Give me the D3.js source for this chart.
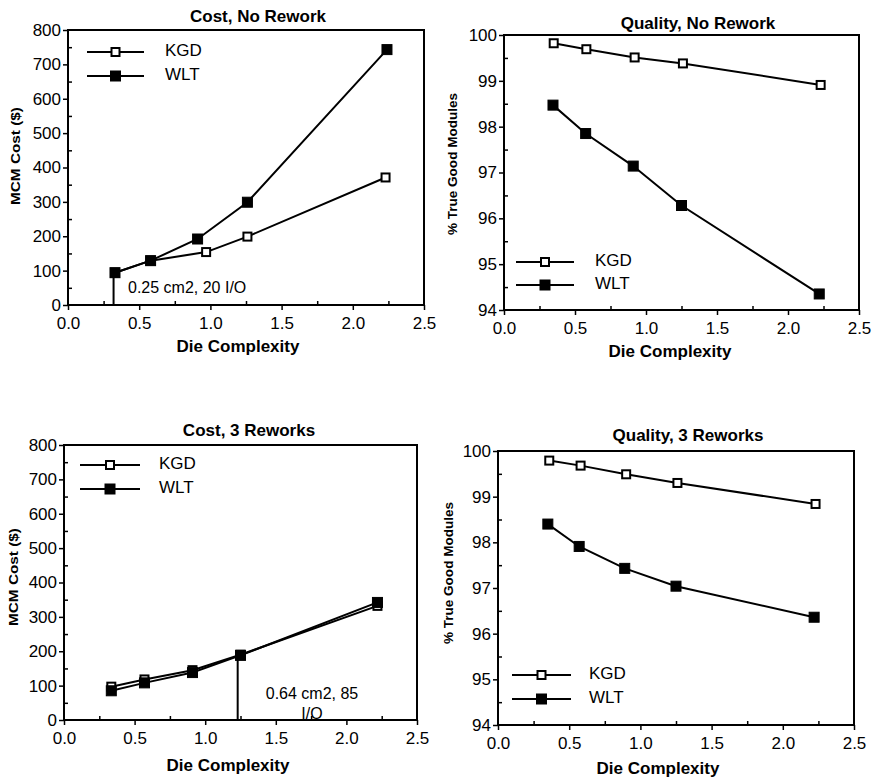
<!DOCTYPE html>
<html>
<head>
<meta charset="utf-8">
<script src="https://cdn.jsdelivr.net/npm/d3@7"></script>
<style>
  body { margin: 0; background: #fff; }
  svg { display: block; font-family: "Liberation Sans", Arial, sans-serif; }
</style>
</head>
<body>
<div id="chart"></div>
<script>
// ---- data ----
const seriesNames = ["KGD", "WLT"];

// Cost, No Rework
const costNoReworkX_KGD = [0.33, 0.58, 0.97, 1.26, 2.23];
const costNoReworkX_WLT = [0.33, 0.58, 0.91, 1.26, 2.24];
const costNoRework_KGD = [94, 129, 154, 199, 371];
const costNoRework_WLT = [94, 129, 192, 299, 743];

// Quality, No Rework
const qualNoReworkX_KGD = [0.35, 0.58, 0.92, 1.26, 2.23];
const qualNoReworkX_WLT = [0.345, 0.575, 0.91, 1.25, 2.22];
const qualNoRework_KGD = [99.82, 99.69, 99.51, 99.38, 98.91];
const qualNoRework_WLT = [98.47, 97.85, 97.14, 96.28, 94.35];

// Cost, 3 Reworks
const cost3ReworkX = [0.335, 0.57, 0.91, 1.25, 2.22];
const cost3Rework_KGD = [97, 118, 145, 190, 332];
const cost3Rework_WLT = [85, 108, 138, 188, 342];

// Quality, 3 Reworks
const qual3ReworkX_KGD = [0.36, 0.58, 0.90, 1.26, 2.23];
const qual3ReworkX_WLT = [0.35, 0.57, 0.89, 1.25, 2.22];
const qual3Rework_KGD = [99.79, 99.68, 99.49, 99.30, 98.84];
const qual3Rework_WLT = [98.40, 97.91, 97.43, 97.04, 96.36];

// axis ticks
const xTicks = [0.0, 0.5, 1.0, 1.5, 2.0, 2.5];
const costTicks = [0, 100, 200, 300, 400, 500, 600, 700, 800];
const qualTicks = [94, 95, 96, 97, 98, 99, 100];

// annotations: [x, y top, label lines]
const noteNoRework = { x: 0.32, y: 94, lines: ["0.25 cm2, 20 I/O"] };
const note3Rework = { x: 1.23, y: 190, lines: ["0.64 cm2, 85", "I/O"] };

const width = 872, height = 780;
const svg = d3.select("#chart").append("svg")
  .attr("width", width)
  .attr("height", height);

const zip = (xs, ys) => xs.map((x, i) => [x, ys[i]]);

const panels = [
  {
    title: "Cost, No Rework", box: { l: 68, r: 424, t: 30, b: 305 },
    yDomain: [0, 800], yTicks: costTicks, yMinor: 50, yLabel: "MCM Cost ($)", yLabelLen: 98,
    titlePos: [258, 22], yLabelPos: [17, 156], xLabelPos: [238, 352],
    kgd: zip(costNoReworkX_KGD, costNoRework_KGD), wlt: zip(costNoReworkX_WLT, costNoRework_WLT),
    legend: { x0: 87, x1: 144, y: 52, dy: 24, tx: 165 },
    note: noteNoRework, noteTx: 128, noteTy: 293, noteAnchor: "start"
  },
  {
    title: "Quality, No Rework", box: { l: 504, r: 859, t: 35, b: 310 },
    yDomain: [94, 100], yTicks: qualTicks, yMinor: 0.5, yLabel: "% True Good Modules", yLabelLen: 142,
    titlePos: [698, 29], yLabelPos: [454, 164], xLabelPos: [670, 357],
    kgd: zip(qualNoReworkX_KGD, qualNoRework_KGD), wlt: zip(qualNoReworkX_WLT, qualNoRework_WLT),
    legend: { x0: 516, x1: 574, y: 262, dy: 23, tx: 595 }
  },
  {
    title: "Cost, 3 Reworks", box: { l: 64, r: 417, t: 445, b: 720 },
    yDomain: [0, 800], yTicks: costTicks, yMinor: 50, yLabel: "MCM Cost ($)", yLabelLen: 98,
    titlePos: [249, 436], yLabelPos: [15, 577], xLabelPos: [228, 771],
    kgd: zip(cost3ReworkX, cost3Rework_KGD), wlt: zip(cost3ReworkX, cost3Rework_WLT),
    legend: { x0: 80, x1: 140, y: 465, dy: 24, tx: 159 },
    note: note3Rework, noteTx: 312, noteTy: 699, noteAnchor: "middle"
  },
  {
    title: "Quality, 3 Reworks", box: { l: 498, r: 854, t: 451, b: 725 },
    yDomain: [94, 100], yTicks: qualTicks, yMinor: 0.5, yLabel: "% True Good Modules", yLabelLen: 142,
    titlePos: [688, 441], yLabelPos: [450, 573], xLabelPos: [658, 774],
    kgd: zip(qual3ReworkX_KGD, qual3Rework_KGD), wlt: zip(qual3ReworkX_WLT, qual3Rework_WLT),
    legend: { x0: 512, x1: 571, y: 675, dy: 24, tx: 589 }
  }
];

function drawMarker(g, x, y, filled) {
  const s = filled ? 10 : 8;
  g.append("rect")
    .attr("x", x - s / 2).attr("y", y - s / 2)
    .attr("width", s).attr("height", s)
    .attr("fill", filled ? "#000" : "#fff")
    .attr("stroke", "#000")
    .attr("stroke-width", filled ? 1 : 2);
}

panels.forEach(p => {
  const x = d3.scaleLinear().domain([0, 2.5]).range([p.box.l, p.box.r]);
  const y = d3.scaleLinear().domain(p.yDomain).range([p.box.b, p.box.t]);
  const g = svg.append("g");

  // frame
  g.append("rect")
    .attr("x", p.box.l).attr("y", p.box.t)
    .attr("width", p.box.r - p.box.l).attr("height", p.box.b - p.box.t)
    .attr("fill", "none").attr("stroke", "#000").attr("stroke-width", 2);

  // minor ticks (inside)
  const xMinor = d3.range(0.25, 2.5, 0.5);
  g.append("g")
    .attr("transform", `translate(0,${p.box.b})`)
    .call(d3.axisTop(x).tickValues(xMinor).tickSize(4).tickFormat(""))
    .call(a => a.select(".domain").remove());
  const yMinorVals = d3.range(p.yDomain[0] + p.yMinor, p.yDomain[1], p.yMinor * 2);
  g.append("g")
    .attr("transform", `translate(${p.box.l},0)`)
    .call(d3.axisRight(y).tickValues(yMinorVals).tickSize(4).tickFormat(""))
    .call(a => a.select(".domain").remove());

  // major ticks (outside)
  const xAxis = g.append("g")
    .attr("transform", `translate(0,${p.box.b})`)
    .call(d3.axisBottom(x).tickValues(xTicks).tickSize(5).tickPadding(7).tickFormat(d3.format(".1f")));
  xAxis.select(".domain").remove();
  xAxis.selectAll("text").attr("font-size", 17).attr("font-family", "Liberation Sans, Arial, sans-serif").attr("fill", "#000");

  const yAxis = g.append("g")
    .attr("transform", `translate(${p.box.l},0)`)
    .call(d3.axisLeft(y).tickValues(p.yTicks).tickSize(5).tickPadding(2).tickFormat(d3.format("d")));
  yAxis.select(".domain").remove();
  yAxis.selectAll("text").attr("font-size", 17).attr("font-family", "Liberation Sans, Arial, sans-serif").attr("fill", "#000");
  g.selectAll(".tick line").attr("stroke", "#000").attr("stroke-width", 1.5);

  // titles
  svg.append("text")
    .attr("x", p.titlePos[0]).attr("y", p.titlePos[1])
    .attr("text-anchor", "middle").attr("font-weight", "bold").attr("font-size", 17)
    .text(p.title);
  svg.append("text")
    .attr("transform", `translate(${p.yLabelPos[0]},${p.yLabelPos[1]}) rotate(-90)`)
    .attr("text-anchor", "middle").attr("dominant-baseline", "middle")
    .attr("font-weight", "bold").attr("font-size", 12)
    .attr("textLength", p.yLabelLen).attr("lengthAdjust", "spacingAndGlyphs")
    .text(p.yLabel);
  svg.append("text")
    .attr("x", p.xLabelPos[0]).attr("y", p.xLabelPos[1])
    .attr("text-anchor", "middle").attr("font-weight", "bold").attr("font-size", 17)
    .text("Die Complexity");

  // annotation
  if (p.note) {
    g.append("line")
      .attr("x1", x(p.note.x)).attr("x2", x(p.note.x))
      .attr("y1", y(p.yDomain[0])).attr("y2", y(p.note.y))
      .attr("stroke", "#000").attr("stroke-width", 2);
    p.note.lines.forEach((t, i) => {
      g.append("text")
        .attr("x", p.noteTx).attr("y", p.noteTy + i * 20)
        .attr("text-anchor", p.noteAnchor).attr("font-size", 16)
        .text(t);
    });
  }

  // series
  const line = d3.line().x(d => x(d[0])).y(d => y(d[1]));
  [["kgd", false], ["wlt", true]].forEach(([key, filled]) => {
    g.append("path")
      .datum(p[key])
      .attr("d", line)
      .attr("fill", "none").attr("stroke", "#000").attr("stroke-width", 2);
    p[key].forEach(d => drawMarker(g, x(d[0]), y(d[1]), filled));
  });

  // legend
  seriesNames.forEach((name, i) => {
    const ly = p.legend.y + i * p.legend.dy;
    g.append("line")
      .attr("x1", p.legend.x0).attr("x2", p.legend.x1)
      .attr("y1", ly).attr("y2", ly)
      .attr("stroke", "#000").attr("stroke-width", 2);
    drawMarker(g, (p.legend.x0 + p.legend.x1) / 2, ly, i === 1);
    g.append("text")
      .attr("x", p.legend.tx).attr("y", ly)
      .attr("dominant-baseline", "middle").attr("font-size", 17)
      .text(name);
  });
});
</script>
</body>
</html>
